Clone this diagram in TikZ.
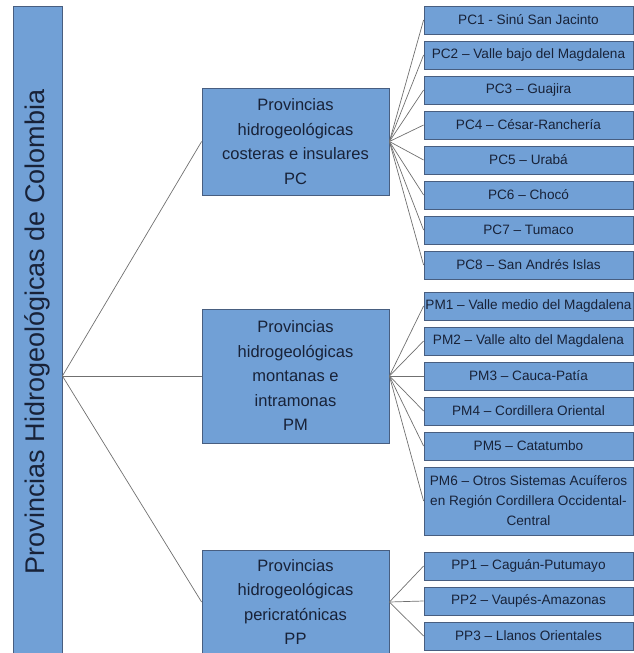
\documentclass[tikz,border=0pt]{standalone}
\usepackage{fontspec}
\setmainfont{Liberation Sans}
\usetikzlibrary{positioning}
\definecolor{skyfill}{RGB}{113,160,214}
\definecolor{skyline}{RGB}{72,94,128}
\definecolor{ink}{RGB}{24,34,56}
\definecolor{wire}{RGB}{112,112,112}
\tikzset{
  panel/.style={draw=skyline,fill=skyfill,line width=0.8pt,text=ink,inner sep=0pt,align=center},
  root box/.style={panel,minimum width=49pt,minimum height=652pt,font=\fontsize{27}{30}\selectfont},
  prov box/.style={panel,minimum width=187pt,minimum height=#1,font=\fontsize{16.5}{24.5}\selectfont},
  unit box/.style={panel,minimum width=209pt,minimum height=#1,font=\fontsize{13.6}{20}\selectfont},
  unit box/.default=28pt,
  link/.style={draw=wire,line width=0.7pt},
}

\begin{document}
\begin{tikzpicture}[x=1pt,y=-1pt]
  \useasboundingbox (0,0) rectangle (634,653);
  \clip (0,0) rectangle (634,653);
  % root
  \node[root box] (root) at (37.5,332) {\rotatebox{90}{Provincias Hidrogeológicas de Colombia}};
  % provinces
  \node[prov box=107pt] (pc) at (295.5,141.5) {Provincias\\hidrogeológicas\\costeras e insulares\\PC};
  \node[prov box=134pt] (pm) at (295.5,376) {Provincias\\hidrogeológicas\\montanas e\\intramonas\\PM};
  \node[prov box=104pt] (pp) at (295.5,602) {Provincias\\hidrogeológicas\\pericratónicas\\PP};
  \coordinate (hub) at (root.east |- pm.west);
  % units
  \foreach \t [count=\i] in {PC1 - Sinú San Jacinto,PC2 -- Valle bajo del Magdalena,PC3 -- Guajira,
      PC4 -- César-Ranchería,PC5 -- Urabá,PC6 -- Chocó,PC7 -- Tumaco,PC8 -- San Andrés Islas}
    \node[unit box] (pc\i) at (528.5,{20+35*(\i-1)}) {\t};
  \foreach \t [count=\i] in {PM1 -- Valle medio del Magdalena,PM2 -- Valle alto del Magdalena,
      PM3 -- Cauca-Patía,PM4 -- Cordillera Oriental,PM5 -- Catatumbo}
    \node[unit box] (pm\i) at (528.5,{306+35*(\i-1)}) {\t};
  \node[unit box=68pt] (pm6) at (528.5,501) {PM6 -- Otros Sistemas Acuíferos\\en Región Cordillera Occidental-\\Central};
  \foreach \t [count=\i] in {PP1 -- Caguán-Putumayo,PP2 -- Vaupés-Amazonas,PP3 -- Llanos Orientales}
    \node[unit box] (pp\i) at (528.5,{566+35*(\i-1)}) {\t};
  % connectors
  \foreach \p in {pc,pm,pp}
    \draw[link] (hub) -- (\p.west);
  \foreach \i in {1,...,8}
    \draw[link] (pc.east) -- (pc\i.west);
  \foreach \i in {1,...,6}
    \draw[link] (pm.east) -- (pm\i.west);
  \foreach \i in {1,...,3}
    \draw[link] (pp.east) -- (pp\i.west);
\end{tikzpicture}
\end{document}
